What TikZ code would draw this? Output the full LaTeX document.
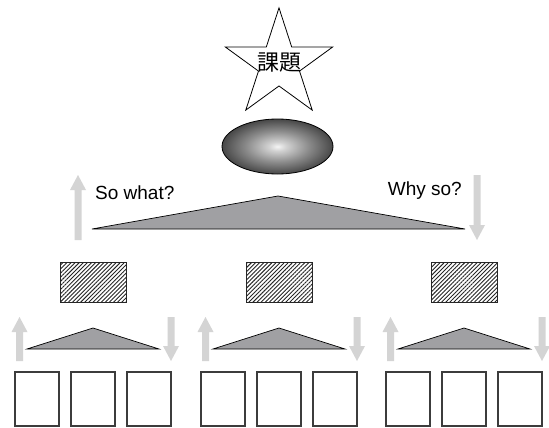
\documentclass[tikz,border=0pt]{standalone}
\usepackage{fontspec}
\setmainfont{Liberation Sans}
\newfontfamily\jpfont{Noto Sans CJK JP}
\usetikzlibrary{shapes.geometric,patterns.meta}
\definecolor{arrowgray}{RGB}{212,212,212}
\definecolor{trifill}{RGB}{160,160,163}
\definecolor{boxline}{RGB}{60,60,60}
\pgfdeclareradialshading{ellshade}{\pgfpoint{0bp}{0bp}}{color(0bp)=(white!96!black); color(4bp)=(white!82!black); color(14bp)=(black!45); color(25bp)=(black!72); color(50bp)=(black!75)}
\newcommand\myuparrow[3]{%
  \fill[arrowgray] (#1-3.5,#2) -- (#1-3.5,#3+15) -- (#1-8,#3+15) -- (#1,#3) -- (#1+8,#3+15) -- (#1+3.5,#3+15) -- (#1+3.5,#2) -- cycle;}
\newcommand\mydownarrow[3]{%
  \fill[arrowgray] (#1-3.5,#2) -- (#1-3.5,#3-15) -- (#1-8,#3-15) -- (#1,#3) -- (#1+8,#3-15) -- (#1+3.5,#3-15) -- (#1+3.5,#2) -- cycle;}
\tikzset{
  leafbox/.style={draw=boxline, line width=1.1pt, fill=white, minimum width=44, minimum height=54, inner sep=0},
  hatchbox/.style={draw=black!85, line width=1pt, fill=white, pattern={Lines[angle=45,distance=2.9pt,line width=0.9pt]}, pattern color=black!85, minimum width=66, minimum height=40, inner sep=0},
  tri/.style={draw=black, line width=0.7pt, fill=trifill},
  lbl/.style={inner sep=0, font=\fontsize{19}{22}\selectfont}
}
\begin{document}
\begin{tikzpicture}[x=1pt,y=-1pt]
\useasboundingbox (0,0) rectangle (549,428);
\fill[white] (0,0) rectangle (549,428);
% star
\node[star, star points=5, star point ratio=2.618, minimum size=113, draw=black, line width=0.8pt, inner sep=0, fill=white] (star) at (279,64.4) {};
\node[inner sep=0, font=\jpfont\fontsize{22}{24}\selectfont] (kadai) at (279,63) {課題};
% ellipse
\node[ellipse, draw=black, line width=0.8pt, minimum width=111, minimum height=55, inner sep=0, shading=ellshade] (ell) at (277.5,146.5) {};
% big triangle
\draw[tri] (92,229) -- (278,196) -- (465,229) -- cycle;
\myuparrow{78}{240}{175}
\mydownarrow{477}{175}{240}
\node[lbl, anchor=base west] (sowhat) at (95,199) {So what?};
\node[lbl, anchor=base east] (whyso) at (462,195) {Why so?};
% groups
\foreach \c [count=\i] in {93,279,464} {
  \node[hatchbox] (h-\i) at (\c,282.5) {};
  \draw[tri] (\c-66,349) -- (\c,328) -- (\c+66,349) -- cycle;
  \myuparrow{\c-73.5}{361}{317}
  \mydownarrow{\c+78}{317}{361}
  \node[leafbox] (b-\i-1) at (\c-56,399) {};
  \node[leafbox] (b-\i-2) at (\c,399) {};
  \node[leafbox] (b-\i-3) at (\c+56,399) {};
}
\end{tikzpicture}
\end{document}
